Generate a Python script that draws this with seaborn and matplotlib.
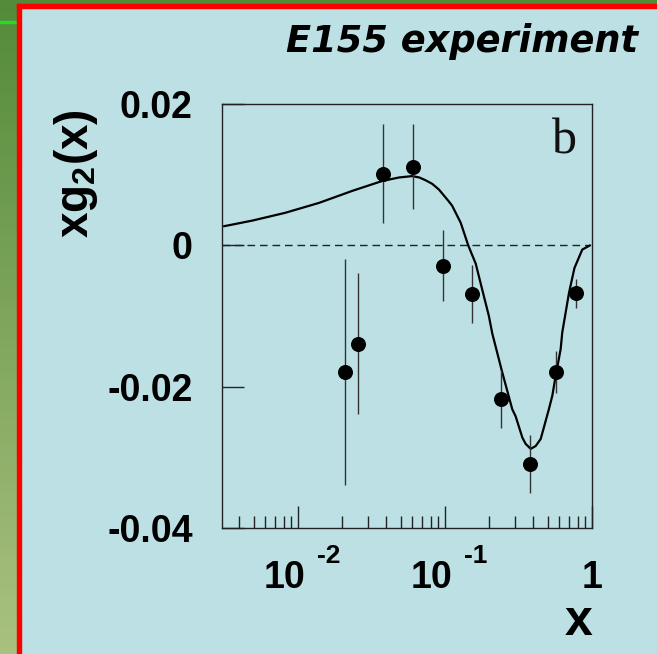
import numpy as np
import matplotlib
matplotlib.use("Agg")
import matplotlib.pyplot as plt
import seaborn as sns
from matplotlib.patches import Rectangle
from matplotlib.colors import LinearSegmentedColormap
from matplotlib.transforms import ScaledTranslation
from matplotlib.ticker import LogLocator, NullFormatter, FixedLocator, FixedFormatter

# E155 data points: x, xg2(x) and the error bars
pts_x = [0.0208, 0.0257, 0.0377, 0.0608, 0.0974, 0.1535, 0.2415, 0.3765, 0.571, 0.778]
pts_y = [-0.0179, -0.0139, 0.0101, 0.0111, -0.0029, -0.0069, -0.0218, -0.0309, -0.0179, -0.0068]
pts_err = [0.016, 0.010, 0.0070, 0.0060, 0.0050, 0.0041, 0.0041, 0.0041, 0.0030, 0.0020]

# model curve
curve_x = [0.00314, 0.0049, 0.0082, 0.0139, 0.0234, 0.0374, 0.0487, 0.060, 0.067, 0.074,
           0.082, 0.091, 0.1064, 0.112, 0.128, 0.144, 0.162, 0.178, 0.199, 0.21,
           0.2455, 0.287, 0.3026, 0.336, 0.354, 0.383, 0.414, 0.448, 0.509, 0.537,
           0.566, 0.612, 0.628, 0.698, 0.76, 0.859, 0.97]
curve_y = [0.0027, 0.0035, 0.0046, 0.0060, 0.0077, 0.0091, 0.0096, 0.0098, 0.0096, 0.0092,
           0.0087, 0.0079, 0.0062, 0.0056, 0.0032, 0.0, -0.0026, -0.0060, -0.0100, -0.0125,
           -0.0180, -0.0232, -0.0242, -0.0272, -0.0281, -0.0288, -0.0284, -0.0274, -0.0232, -0.0213,
           -0.0185, -0.0147, -0.0123, -0.0067, -0.0032, -0.0006, 0.0]

xticks = [0.01, 0.1, 1.0]
xticklabels = ["10", "10", "1"]
xexponents = ["-2", "-1", ""]
yticks = [0.02, 0.0, -0.02, -0.04]
yticklabels = ["0.02", "0", "-0.02", "-0.04"]

bg = "#bce0e4"
sns.set_theme(style="ticks")
plt.rcParams["font.family"] = ["Liberation Sans", "DejaVu Sans"]
plt.rcParams["mathtext.fontset"] = "custom"
plt.rcParams["mathtext.rm"] = "Liberation Sans:bold"
plt.rcParams["mathtext.it"] = "Liberation Sans:bold"
plt.rcParams["mathtext.bf"] = "Liberation Sans:bold"

W, H = 657, 654
fig = plt.figure(figsize=(W / 100, H / 100), dpi=100, facecolor=bg)

# slide decoration: green strip on the left, red frame
strip = fig.add_axes([0, 0, 17 / W, 1])
green = LinearSegmentedColormap.from_list("g", ["#a9c17f", "#548b3a"])
strip.imshow(np.linspace(0, 1, 100).reshape(-1, 1), aspect="auto", cmap=green, origin="lower")
strip.axis("off")
fig.patches.append(Rectangle((0, 1 - 4 / H), 1, 4 / H, transform=fig.transFigure,
                             color="#548b3a", zorder=0))
fig.patches.append(Rectangle((0, 1 - 23 / H), 17 / W, 1.5 / H, transform=fig.transFigure,
                             color="#22dd22", zorder=2))
fig.patches.append(Rectangle((17 / W, 0), 4 / W, 1 - 4 / H, transform=fig.transFigure,
                             color="#ff0000", zorder=2))
fig.patches.append(Rectangle((17 / W, 1 - 8 / H), 1, 4 / H, transform=fig.transFigure,
                             color="#ff0000", zorder=2))

ax = fig.add_axes([222 / W, 1 - 528 / H, 370 / W, 424 / H])
ax.set_facecolor("none")

ax.axhline(0, xmin=0, xmax=0.99, color="#222222", lw=1.0, ls=(0, (5.5, 3.5)), zorder=1)
sns.lineplot(x=curve_x, y=curve_y, sort=False, estimator=None, color="black", lw=1.6, ax=ax, zorder=2)
ax.errorbar(pts_x, pts_y, yerr=pts_err, fmt="none", ecolor="#333333", elinewidth=1.0, capsize=0, zorder=3)
sns.scatterplot(x=pts_x, y=pts_y, s=117, color="black", edgecolor="black", linewidth=0, ax=ax, zorder=4)

ax.set_xscale("log")
ax.set_xlim(0.00305, 1.0)
ax.set_ylim(-0.04, 0.02)

ax.xaxis.set_major_locator(FixedLocator(xticks))
ax.xaxis.set_major_formatter(FixedFormatter(xticklabels))
ax.xaxis.set_minor_locator(LogLocator(base=10, subs=range(2, 10), numticks=20))
ax.xaxis.set_minor_formatter(NullFormatter())
ax.set_yticks(yticks)
ax.set_yticklabels(yticklabels)

ax.tick_params(axis="x", which="major", direction="in", length=16, width=1.0, color="#222222",
               bottom=True, top=False, pad=23, labelsize=27)
ax.tick_params(axis="x", which="minor", direction="in", length=8.5, width=1.0, color="#222222",
               bottom=True, top=False)
ax.tick_params(axis="y", which="major", direction="in", length=16, width=1.0, color="#222222",
               left=True, right=False, pad=21, labelsize=27)
for lab in ax.get_xticklabels() + ax.get_yticklabels():
    lab.set_fontweight("bold")
    lab.set_color("black")

# the "10" of a 10^n label sits left of its tick, the exponent raised to the right
shift = ScaledTranslation(-13 / 100, 0, fig.dpi_scale_trans)
for lab, ex in zip(ax.get_xticklabels(), xexponents):
    if ex:
        lab.set_transform(lab.get_transform() + shift)
for xt, ex in zip(xticks, xexponents):
    if ex:
        ax.annotate(ex, xy=(xt, 0), xycoords=("data", "axes fraction"),
                    xytext=(13.5, -25), textcoords="offset points", ha="left", va="baseline",
                    fontsize=19, fontweight="bold", color="black", annotation_clip=False)

for s in ax.spines.values():
    s.set_color("#222222")
    s.set_linewidth(1.0)

ax.set_ylabel(r"xg$_{2}$(x)", fontsize=33, fontweight="bold", color="black")
ax.yaxis.set_label_coords(-0.33, 0.837)
ax.set_xlabel("x", fontsize=36, fontweight="bold", color="black")
ax.xaxis.set_label_coords(1.0, (528 - 635) / 424)
ax.xaxis.label.set_ha("right")
ax.xaxis.label.set_va("baseline")

ax.text(0.959, 0.884, "b", transform=ax.transAxes, ha="right", va="baseline",
        fontsize=36, family="Liberation Serif", color="#111111")

fig.text(638 / W, 1 - 52 / H, "E155 experiment", ha="right", va="baseline", fontsize=26.5,
         fontweight="bold", style="italic", family="DejaVu Sans", color="black")

fig.savefig("out.png", dpi=100, facecolor=bg)
